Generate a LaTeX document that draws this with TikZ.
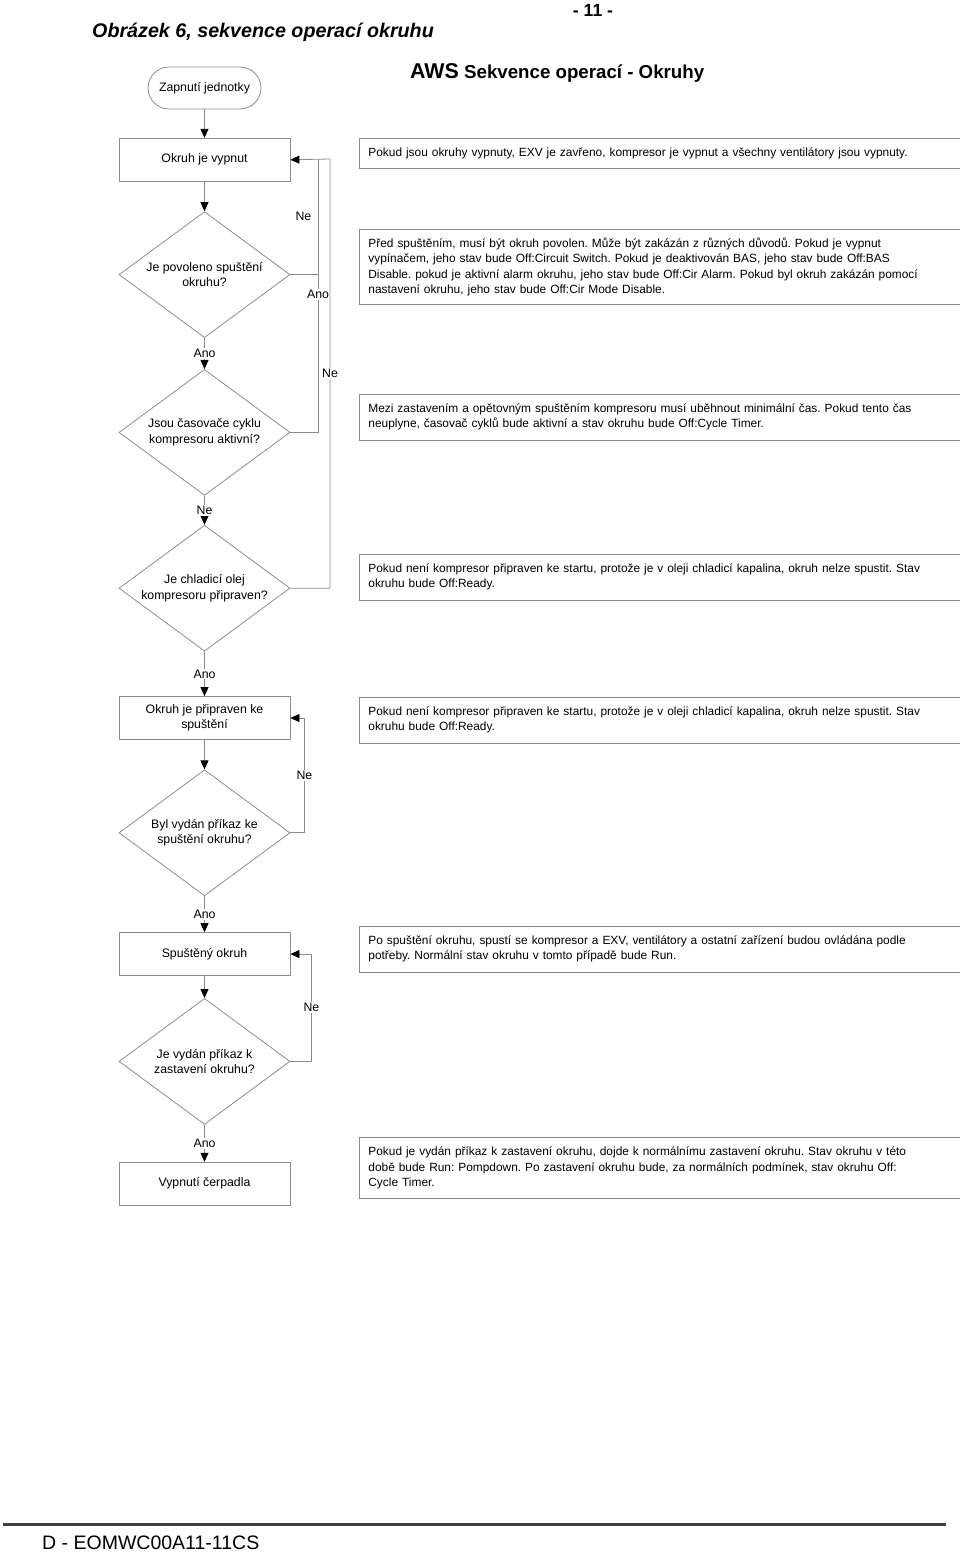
\documentclass[tikz,border=0pt]{standalone}
\usepackage{fontspec}
\setmainfont{Liberation Sans}
\usetikzlibrary{arrows.meta, shapes.geometric, shapes.misc, positioning}
\definecolor{linegray}{HTML}{8C8C8C}
\definecolor{rulegray}{HTML}{404040}

\begin{document}
\begin{tikzpicture}[
  x=1pt, y=-1pt,
  font=\fontsize{12.3}{15.5}\selectfont\frenchspacing,
  startbox/.style={rounded rectangle, draw=linegray, line width=0.8pt,
                   minimum width=113pt, minimum height=42pt, inner sep=0pt},
  stepbox/.style={rectangle, draw=linegray, line width=0.8pt,
                  minimum width=171pt, minimum height=43pt, align=center, inner sep=2pt},
  query/.style={diamond, aspect=1.357, draw=linegray, line width=0.8pt,
                minimum width=171pt, minimum height=126pt, align=center, inner sep=0pt},
  note/.style={rectangle, draw=linegray, line width=0.8pt, anchor=west,
               font=\fontsize{11.9}{15.5}\selectfont\frenchspacing,
               text width=590pt, align=left, inner xsep=9pt, minimum height=#1},
  flow/.style={draw=linegray, line width=0.8pt, -{Triangle[length=9pt, width=8pt, color=black]}},
  link/.style={draw=linegray, line width=0.8pt},
  lbl/.style={fill=white, inner sep=1pt}
]
\useasboundingbox (0,0) rectangle (960,1552);
\clip (0,0) rectangle (960,1552);

% headings
\node[anchor=west, inner sep=0pt, font=\fontsize{19.7}{24}\selectfont\bfseries\itshape] (title) at (92,32) {Obrázek 6, sekvence operací okruhu};
\node[inner sep=0pt, font=\fontsize{17.6}{20}\selectfont\bfseries] (page) at (593,10) {- 11 -};
\node[anchor=west, inner sep=0pt, font=\fontsize{18.7}{22}\selectfont\bfseries] (head) at (410,73) {{\fontsize{21.4}{24}\selectfont AWS} Sekvence operací - Okruhy};

% left column
\node[startbox] (start) at (204.5,88) {Zapnutí jednotky};
\node[stepbox, below=28.5pt of start] (off) {Okruh je vypnut};
\node[query, below=29.5pt of off] (enable) {Je povoleno spuštění\\okruhu?};
\node[query, below=31pt of enable] (timers) {Jsou časovače cyklu\\kompresoru aktivní?};
\node[query, below=29pt of timers] (oil) {Je chladicí olej\\kompresoru připraven?};
\node[stepbox, below=44.5pt of oil] (ready) {Okruh je připraven ke\\spuštění};
\node[query, below=29.5pt of ready] (cmdstart) {Byl vydán příkaz ke\\spuštění okruhu?};
\node[stepbox, below=36pt of cmdstart] (run) {Spuštěný okruh};
\node[query, below=22pt of run] (cmdstop) {Je vydán příkaz k\\zastavení okruhu?};
\node[stepbox, below=37pt of cmdstop] (pump) {Vypnutí čerpadla};

% notes
\node[note=30pt] (n1) at (359,153) {Pokud jsou okruhy vypnuty, EXV je zavřeno, kompresor je vypnut a všechny ventilátory jsou vypnuty.};
\node[note=75pt] (n2) at (359,267) {Před spuštěním, musí být okruh povolen. Může být zakázán z různých důvodů. Pokud je vypnut\\vypínačem, jeho stav bude Off:Circuit Switch. Pokud je deaktivován BAS, jeho stav bude Off:BAS\\Disable. pokud je aktivní alarm okruhu, jeho stav bude Off:Cir Alarm. Pokud byl okruh zakázán pomocí\\nastavení okruhu, jeho stav bude Off:Cir Mode Disable.};
\node[note=46pt] (n3) at (359,417) {Mezi zastavením a opětovným spuštěním kompresoru musí uběhnout minimální čas. Pokud tento čas\\neuplyne, časovač cyklů bude aktivní a stav okruhu bude Off:Cycle Timer.};
\node[note=46pt] (n4) at (359,577) {Pokud není kompresor připraven ke startu, protože je v oleji chladicí kapalina, okruh nelze spustit. Stav\\okruhu bude Off:Ready.};
\node[note=46pt] (n5) at (359,720) {Pokud není kompresor připraven ke startu, protože je v oleji chladicí kapalina, okruh nelze spustit. Stav\\okruhu bude Off:Ready.};
\node[note=46pt] (n6) at (359,949) {Po spuštění okruhu, spustí se kompresor a EXV, ventilátory a ostatní zařízení budou ovládána podle\\potřeby. Normální stav okruhu v tomto případě bude Run.};
\node[note=61pt] (n7) at (359,1168) {Pokud je vydán příkaz k zastavení okruhu, dojde k normálnímu zastavení okruhu. Stav okruhu v této\\době bude Run: Pompdown. Po zastavení okruhu bude, za normálních podmínek, stav okruhu Off:\\Cycle Timer.};

% main flow
\draw[flow] (start) -- (off);
\draw[flow] (off) -- (enable);
\draw[flow] (enable) -- node[lbl] {Ano} (timers);
\draw[flow] (timers) -- node[lbl] {Ne} (oil);
\draw[flow] (oil) -- node[lbl] {Ano} (ready);
\draw[flow] (ready) -- (cmdstart);
\draw[flow] (cmdstart) -- node[lbl] {Ano} (run);
\draw[flow] (run) -- (cmdstop);
\draw[flow] (cmdstop) -- node[lbl] {Ano} (pump);

% return loops
\coordinate (jA) at (318,159);
\coordinate (jB) at (330,159);
\draw[link] (enable.east) -| node[pos=0.75, left=3pt] {Ne} (jA);
\draw[link] (timers.east) -| node[lbl, pos=0.752] {Ano} (jA);
\draw[flow] (oil.east) -| node[lbl, pos=0.75] {Ne} (jB) -- (off.east);
\draw[flow] (cmdstart.east) -- ++(14,0) |- node[lbl, pos=0.25] {Ne} (ready.east);
\draw[flow] (cmdstop.east) -- ++(21,0) |- node[lbl, pos=0.25] {Ne} (run.east);

% footer
\draw[rulegray, line width=3pt] (3,1524) -- (946,1524);
\node[anchor=west, inner sep=0pt, font=\fontsize{19.5}{22}\selectfont] (docid) at (42,1543) {D - EOMWC00A11-11CS};
\end{tikzpicture}
\end{document}
